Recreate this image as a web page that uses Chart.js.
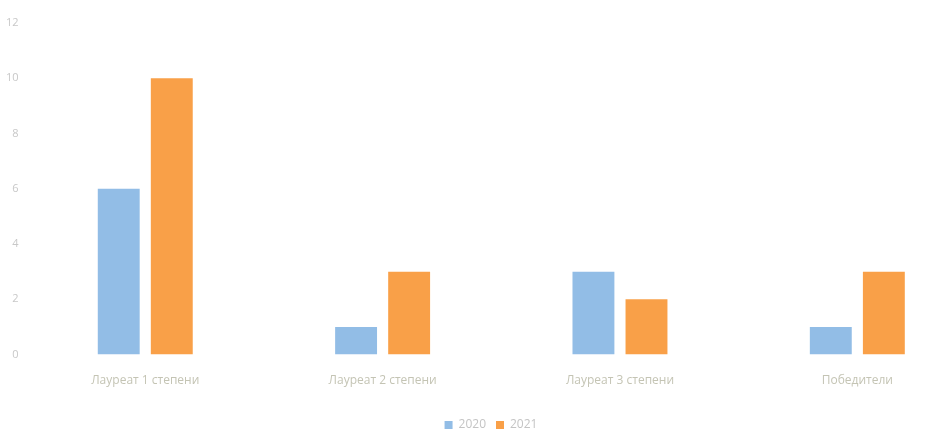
<!DOCTYPE html>
<html>
<head>
<meta charset="utf-8">
<script src="https://cdn.jsdelivr.net/npm/chart.js@4"></script>
<style>
  html, body { margin: 0; padding: 0; background: #fff; overflow: hidden; height: 433px; }
  #wrap { position: relative; top: 8px; width: 980px; height: 433px; }
</style>
</head>
<body>
<div id="wrap"><canvas id="myChart"></canvas></div>
<script>
const categories = ["Лауреат 1 степени", "Лауреат 2 степени", "Лауреат 3 степени", "Победители"];
const values2020 = [6, 1, 3, 1];
const values2021 = [10, 3, 2, 3];
const yTicks = [0, 2, 4, 6, 8, 10, 12];

const ctx = document.getElementById("myChart");
new Chart(ctx, {
  type: "bar",
  data: {
    labels: categories,
    datasets: [
      { label: "2020", data: values2020, backgroundColor: "#92bde6" },
      { label: "2021", data: values2021, backgroundColor: "#f9a048" }
    ]
  },
  options: {
    responsive: true,
    maintainAspectRatio: false,
    animation: false,
    categoryPercentage: 0.447,
    barPercentage: 0.79,
    layout: { padding: { top: 15, right: 4, left: 6, bottom: 0 } },
    scales: {
      x: {
        grid: { display: false },
        border: { display: false },
        ticks: { color: "#c4c4b4", font: { family: "Open Sans", size: 12 }, padding: 11 },
        afterFit: (scale) => { scale.height += 10; }
      },
      y: {
        min: 0,
        max: 12,
        afterBuildTicks: (axis) => { axis.ticks = yTicks.map(v => ({ value: v })); },
        grid: { display: false },
        border: { display: false },
        ticks: { color: "#c8c8c8", font: { family: "Open Sans", size: 11 }, padding: 0 }
      }
    },
    plugins: {
      legend: {
        position: "bottom",
        labels: {
          boxWidth: 8,
          boxHeight: 8,
          color: "#c4c4c4",
          font: { family: "Open Sans", size: 12 },
          padding: 10
        },
        onClick: null
      },
      tooltip: { enabled: false }
    }
  }
});
</script>
</body>
</html>
